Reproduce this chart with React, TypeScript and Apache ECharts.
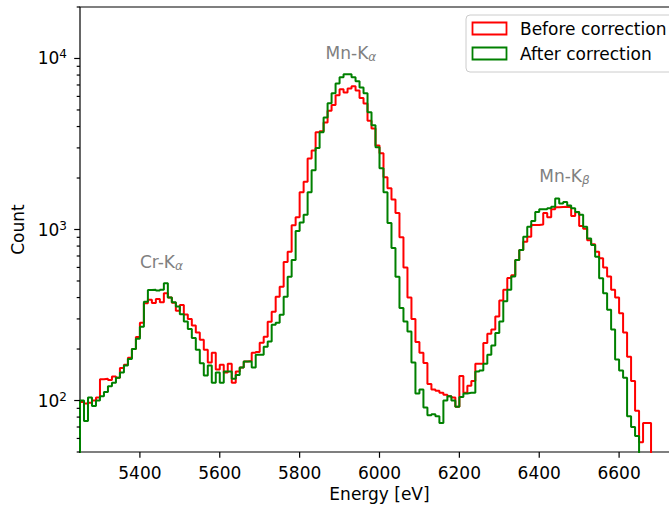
import React, { useEffect, useRef } from "react";
import * as echarts from "echarts";

const FONT = "DejaVu Sans";
const X_MIN = 5250;
const X_MAX = 6750;
const Y_MIN = 50;
const Y_MAX = 20000;
const BIN_START = 5250; // eV, left edge of first bin
const BIN_WIDTH = 10; // eV

// Counts per 10 eV bin, starting at 5250 eV
const beforeCounts = [
  98, 96, 97, 100, 104, 133, 134, 132, 138, 136,
  155, 162, 178, 200, 235, 285, 370, 388, 372, 392,
  375, 424, 400, 373, 335, 362, 318, 300, 275, 250,
  227, 198, 167, 190, 152, 162, 146, 164, 127, 148,
  156, 169, 170, 190, 192, 218, 236, 289, 330, 405,
  463, 645, 740, 1060, 1180, 1650, 1900, 2600, 2900, 3700,
  3750, 4230, 4950, 5340, 6090, 6600, 6330, 6670, 6870, 6500,
  5880, 5450, 4330, 3900, 3100, 2790, 2020, 1740, 1500, 1250,
  900, 600, 400, 300, 220, 190, 166, 125, 116, 114,
  111, 108, 106, 104, 92, 139, 111, 122, 130, 164,
  164, 217, 246, 260, 310, 385, 444, 520, 540, 664,
  760, 849, 908, 1062, 1062, 1070, 1250, 1180, 1313, 1350,
  1355, 1360, 1350, 1200, 1260, 1050, 1010, 866, 820, 740,
  680, 600, 531, 444, 400, 324, 250, 180, 130, 87,
  57, 74, 74,
];

const afterCounts = [
  100, 76, 104, 93, 100, 106, 112, 121, 127, 136,
  146, 160, 175, 200, 230, 270, 378, 443, 445, 440,
  445, 485, 400, 375, 355, 320, 290, 262, 232, 198,
  165, 140, 160, 127, 146, 127, 148, 148, 134, 141,
  156, 169, 169, 156, 185, 185, 206, 221, 277, 285,
  317, 405, 530, 664, 980, 1100, 1220, 1650, 2220, 3000,
  3700, 4520, 5480, 6270, 7150, 7760, 8100, 8100, 7760, 7350,
  6760, 6270, 4850, 4070, 3030, 2280, 1650, 1090, 780, 530,
  348, 290, 253, 167, 110, 116, 91, 82, 83, 81,
  74, 100, 106, 100, 92, 105, 110, 111, 111, 148,
  150, 164, 185, 210, 248, 290, 380, 444, 531, 664,
  760, 908, 1036, 1122, 1267, 1313, 1313, 1330, 1360, 1520,
  1420, 1450, 1383, 1330, 1267, 1218, 1036, 887, 811, 694,
  519, 424, 339, 260, 174, 150, 136, 81, 70, 62,
];

const xTickValues = [5400, 5600, 5800, 6000, 6200, 6400, 6600];
const yMajorTicks = [100, 1000, 10000];
const yMinorTicks = [
  50, 60, 70, 80, 90, 200, 300, 400, 500, 600, 700, 800, 900,
  2000, 3000, 4000, 5000, 6000, 7000, 8000, 9000, 20000,
];

const annotationLabels = ["Cr-K", "Mn-K", "Mn-K"];
const annotationSubs = ["α", "α", "β"];
const annotationX = [5400, 5865, 6400];
const annotationY = [600, 10000, 1900];

const legendLabels = ["Before correction", "After correction"];
const seriesColors = ["#ff0000", "#008000"];

function stepPoints(counts: number[]): [number, number][] {
  const pts: [number, number][] = [];
  pts.push([BIN_START, 1]);
  counts.forEach((c, i) => pts.push([BIN_START + i * BIN_WIDTH, c]));
  const end = BIN_START + counts.length * BIN_WIDTH;
  pts.push([end, counts[counts.length - 1]]);
  pts.push([end, 1]);
  return pts;
}

export default function App() {
  const ref = useRef<HTMLDivElement>(null);

  useEffect(() => {
    if (!ref.current) return;
    const chart = echarts.init(ref.current, undefined, { renderer: "svg" });
    const tickStyle = { stroke: "#000", lineWidth: 1.2 };
    const fontSize = 17;

    const yTickSeries = (values: number[], len: number) => ({
      type: "custom",
      silent: true,
      z: 6,
      clip: false,
      data: values.map((v) => [X_MIN, v]),
      renderItem: (_p: any, api: any) => {
        const c = api.coord([api.value(0), api.value(1)]);
        return {
          type: "line",
          shape: { x1: c[0] - len, y1: c[1], x2: c[0], y2: c[1] },
          style: tickStyle,
        };
      },
    });

    const option: any = {
      animation: false,
      backgroundColor: "#fff",
      grid: {
        left: 80,
        top: 7,
        right: -10,
        bottom: 56,
        show: true,
        borderColor: "#000",
        borderWidth: 1.2,
        backgroundColor: "transparent",
        containLabel: false,
        outerBoundsMode: "none",
      },
      xAxis: {
        type: "value",
        min: X_MIN,
        max: X_MAX,
        splitNumber: 7,
        axisLine: { show: false },
        axisTick: { show: false },
        splitLine: { show: false },
        axisLabel: {
          customValues: xTickValues,
          formatter: (v: number) => (v % 200 === 0 ? String(v) : ""),
          fontSize,
          fontFamily: FONT,
          color: "#000",
          margin: 12,
        },
        name: "Energy [eV]",
        nameLocation: "middle",
        nameGap: 33,
        nameTextStyle: { fontSize, fontFamily: FONT, color: "#000" },
      },
      yAxis: {
        type: "log",
        logBase: 10,
        min: Y_MIN,
        max: Y_MAX,
        axisLine: { show: false },
        axisTick: { show: false },
        minorTick: { show: false },
        splitLine: { show: false },
        axisLabel: {
          margin: 13,
          formatter: (v: number) => {
            const l = Math.log10(v);
            const e = Math.round(l);
            if (Math.abs(l - e) > 1e-6) return "";
            return `{b|10}{s|${e}}`;
          },
          rich: {
            b: { fontSize, fontFamily: FONT, color: "#000", lineHeight: 20 },
            s: {
              fontSize: 12,
              fontFamily: FONT,
              color: "#000",
              lineHeight: 9,
              verticalAlign: "top",
            },
          },
        },
        name: "Count",
        nameLocation: "middle",
        nameGap: 50,
        nameTextStyle: { fontSize, fontFamily: FONT, color: "#000" },
      },
      graphic: [
        {
          type: "rect",
          z: 100,
          shape: { x: 466, y: 15, width: 240, height: 57, r: 4 },
          style: { fill: "rgba(255,255,255,0.8)", stroke: "#cccccc", lineWidth: 1 },
        },
        ...legendLabels.flatMap((label, i) => [
          {
            type: "rect",
            z: 101,
            shape: { x: 472.5, y: 22.5 + i * 25, width: 34, height: 12 },
            style: { fill: "none", stroke: seriesColors[i], lineWidth: 1.8 },
          },
          {
            type: "text",
            z: 101,
            x: 520,
            y: 29 + i * 25,
            style: {
              text: label,
              fill: "#000",
              fontSize,
              fontFamily: FONT,
              align: "left",
              verticalAlign: "middle",
            },
          },
        ]),
      ],
      series: [
        {
          type: "line",
          name: legendLabels[0],
          data: stepPoints(beforeCounts),
          step: "end",
          symbol: "none",
          showSymbol: false,
          lineStyle: { color: seriesColors[0], width: 2 },
          itemStyle: { color: seriesColors[0] },
          z: 2,
        },
        {
          type: "line",
          name: legendLabels[1],
          data: stepPoints(afterCounts),
          step: "end",
          symbol: "none",
          showSymbol: false,
          lineStyle: { color: seriesColors[1], width: 2 },
          itemStyle: { color: seriesColors[1] },
          z: 3,
        },
        {
          type: "custom",
          silent: true,
          z: 6,
          clip: false,
          data: xTickValues.map((v) => [v, Y_MIN]),
          renderItem: (_p: any, api: any) => {
            const c = api.coord([api.value(0), api.value(1)]);
            return {
              type: "line",
              shape: { x1: c[0], y1: c[1], x2: c[0], y2: c[1] + 5.8 },
              style: tickStyle,
            };
          },
        },
        yTickSeries(yMajorTicks, 5.8),
        yTickSeries(yMinorTicks, 3.3),
        {
          type: "custom",
          silent: true,
          z: 7,
          clip: false,
          data: annotationX.map((x, i) => [x, annotationY[i]]),
          renderItem: (params: any, api: any) => {
            const i = params.dataIndex;
            const c = api.coord([api.value(0), api.value(1)]);
            return {
              type: "text",
              x: c[0],
              y: c[1] - 5.5,
              style: {
                text: `{a|${annotationLabels[i]}}{b|${annotationSubs[i]}}`,
                align: "left",
                verticalAlign: "middle",
                rich: {
                  a: { fontSize, fontFamily: FONT, fill: "#808080", lineHeight: 20 },
                  b: {
                    fontSize: 12,
                    fontFamily: FONT,
                    fontStyle: "italic",
                    fill: "#808080",
                    lineHeight: 12,
                    verticalAlign: "bottom",
                  },
                },
              },
            };
          },
        },
      ],
    };

    chart.setOption(option);
    return () => chart.dispose();
  }, []);

  return (
    <div
      ref={ref}
      style={{
        position: "fixed",
        left: 0,
        top: 0,
        width: 669,
        height: 508,
        background: "#fff",
      }}
    />
  );
}
